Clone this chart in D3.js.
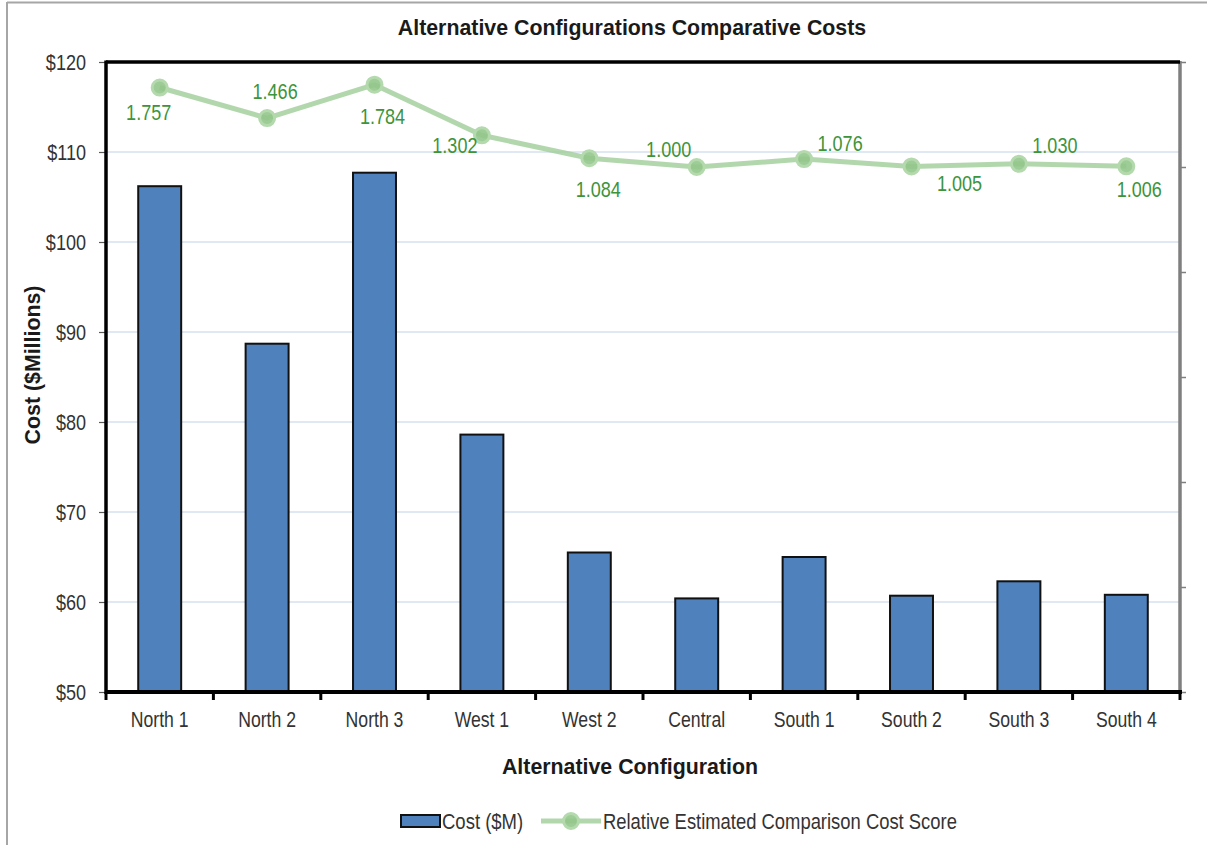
<!DOCTYPE html>
<html>
<head>
<meta charset="utf-8">
<script src="https://cdn.jsdelivr.net/npm/d3@7"></script>
<style>
  body { margin: 0; background: #fff; }
  svg { display: block; }
  text { font-family: "Liberation Sans Narrow", "Arial Narrow", "Liberation Sans", Arial, sans-serif; }
</style>
</head>
<body>
<svg id="chart" width="1207" height="845"></svg>
<script>
// Configurations and their costs ($M) with relative cost scores
const categories = ["North 1", "North 2", "North 3", "West 1", "West 2", "Central", "South 1", "South 2", "South 3", "South 4"];
const costs = [106.2, 88.7, 107.7, 78.6, 65.5, 60.4, 65.0, 60.7, 62.3, 60.8];
const scores = [1.757, 1.466, 1.784, 1.302, 1.084, 1.000, 1.076, 1.005, 1.030, 1.006];
const costTicks = [50, 60, 70, 80, 90, 100, 110, 120];
const scoreTicks = [-4, -3, -2, -1, 0, 1, 2];
// where each score label sits relative to its marker (px)
const labelPlacement = [[-11, 25], [8, -27], [8, 31], [-27, 10], [9, 31], [-28, -18], [36, -16], [48, 17], [36, -19], [13, 23]];

const svg = d3.select("#chart");
const plot = { left: 106, right: 1180, top: 62, bottom: 692 };

const x = d3.scaleBand().domain(categories).range([plot.left, plot.right])
  .paddingInner(0.6).paddingOuter(0.3);
const yCost = d3.scaleLinear().domain([50, 120]).range([plot.bottom, plot.top]);
const yScore = d3.scaleLinear().domain([-4, 2]).range([plot.bottom, plot.top]);

// outer frame (top and left edges)
svg.append("line").attr("x1", 7).attr("x2", 1207).attr("y1", 2.5).attr("y2", 2.5)
  .attr("stroke", "#a6a6a6").attr("stroke-width", 2);
svg.append("line").attr("x1", 7).attr("x2", 7).attr("y1", 2).attr("y2", 845)
  .attr("stroke", "#a6a6a6").attr("stroke-width", 2);

// gridlines
svg.append("g").selectAll("line").data(costTicks.filter(d => d > 50 && d < 120)).join("line")
  .attr("x1", plot.left).attr("x2", plot.right)
  .attr("y1", d => yCost(d)).attr("y2", d => yCost(d))
  .attr("stroke", "#d6e1ef").attr("stroke-width", 1.5);

// bars
svg.append("g").selectAll("rect").data(costs).join("rect")
  .attr("x", (d, i) => x(categories[i]))
  .attr("y", d => yCost(d))
  .attr("width", x.bandwidth())
  .attr("height", d => yCost(50) - yCost(d))
  .attr("fill", "#4f81bd").attr("stroke", "#111").attr("stroke-width", 2);

// left axis
const leftAxis = svg.append("g").attr("transform", `translate(${plot.left},0)`)
  .call(d3.axisLeft(yCost).tickValues(costTicks).tickFormat(d => "$" + d).tickSize(7).tickPadding(13));
leftAxis.select(".domain").remove();
leftAxis.selectAll(".tick line").attr("stroke", "#595959").attr("stroke-width", 1.2);
leftAxis.selectAll(".tick text").attr("font-size", 22).attr("fill", "#333");

// right (secondary) axis: ticks only
const rightAxis = svg.append("g").attr("transform", `translate(${plot.right},0)`)
  .call(d3.axisRight(yScore).tickValues(scoreTicks).tickFormat("").tickSize(6));
rightAxis.select(".domain").remove();
rightAxis.selectAll(".tick line").attr("stroke", "#7f7f7f").attr("stroke-width", 1.5);
svg.append("line").attr("x1", plot.right).attr("x2", plot.right)
  .attr("y1", plot.top - 1).attr("y2", plot.bottom)
  .attr("stroke", "#7f7f7f").attr("stroke-width", 3.5);

// bottom axis labels
const bottomAxis = svg.append("g").attr("transform", `translate(0,${plot.bottom})`)
  .call(d3.axisBottom(x).tickSize(0).tickPadding(20));
bottomAxis.select(".domain").remove();
bottomAxis.selectAll(".tick text").attr("font-size", 21.5).attr("fill", "#333");

// category boundary ticks
const step = x.step();
const bounds = categories.map(c => x(c) - step * 0.3).concat([plot.right]);
svg.append("g").selectAll("line").data(bounds).join("line")
  .attr("x1", d => d).attr("x2", d => d)
  .attr("y1", plot.bottom).attr("y2", plot.bottom + 8)
  .attr("stroke", "#000").attr("stroke-width", 3);

// plot frame lines
svg.append("line").attr("x1", plot.left).attr("x2", plot.right).attr("y1", plot.top).attr("y2", plot.top)
  .attr("stroke", "#000").attr("stroke-width", 3.5);
svg.append("line").attr("x1", plot.left).attr("x2", plot.left).attr("y1", plot.top - 1.5).attr("y2", plot.bottom + 2)
  .attr("stroke", "#000").attr("stroke-width", 3.5);
svg.append("line").attr("x1", plot.left).attr("x2", plot.right + 2).attr("y1", plot.bottom).attr("y2", plot.bottom)
  .attr("stroke", "#000").attr("stroke-width", 4);

// score line
const cx = i => x(categories[i]) + x.bandwidth() / 2;
const line = d3.line().x((d, i) => cx(i)).y(d => yScore(d));
svg.append("path").datum(scores).attr("d", line)
  .attr("fill", "none").attr("stroke", "#9fcd98").attr("stroke-opacity", 0.8)
  .attr("stroke-width", 5).attr("stroke-linejoin", "round");
svg.append("g").selectAll("circle").data(scores).join("circle")
  .attr("cx", (d, i) => cx(i)).attr("cy", d => yScore(d)).attr("r", 7.5)
  .attr("fill", "#92c78b").attr("fill-opacity", 0.9)
  .attr("stroke", "#b3d9ad").attr("stroke-width", 3);
svg.append("g").selectAll("text").data(scores).join("text")
  .attr("x", (d, i) => cx(i) + labelPlacement[i][0])
  .attr("y", (d, i) => yScore(d) + labelPlacement[i][1])
  .attr("dy", "0.36em").attr("text-anchor", "middle")
  .attr("font-size", 22).attr("fill", "#3d943a")
  .text(d => d3.format(".3f")(d));

// titles
svg.append("text").attr("x", 632).attr("y", 35).attr("text-anchor", "middle")
  .attr("font-size", 22).attr("font-weight", "bold").attr("fill", "#1a1a1a")
  .attr("data-squeeze", 0.97)
  .text("Alternative Configurations Comparative Costs");
svg.append("text").attr("x", 630).attr("y", 774).attr("text-anchor", "middle")
  .attr("font-size", 22).attr("font-weight", "bold").attr("fill", "#1a1a1a")
  .attr("data-squeeze", 0.97)
  .text("Alternative Configuration");
svg.append("text").attr("transform", "translate(40,365) rotate(-90)").attr("text-anchor", "middle")
  .attr("font-size", 22).attr("font-weight", "bold").attr("fill", "#1a1a1a")
  .attr("data-squeeze", 0.97)
  .text("Cost ($Millions)");

// legend
const legend = svg.append("g");
legend.append("rect").attr("x", 401).attr("y", 815).attr("width", 39).attr("height", 12)
  .attr("fill", "#4f81bd").attr("stroke", "#111").attr("stroke-width", 2);
legend.append("text").attr("x", 442).attr("y", 829).attr("font-size", 21.5).attr("fill", "#333")
  .attr("data-squeeze", 0.86).text("Cost ($M)");
legend.append("line").attr("x1", 541).attr("x2", 601).attr("y1", 821).attr("y2", 821)
  .attr("stroke", "#9fcd98").attr("stroke-opacity", 0.8).attr("stroke-width", 5);
legend.append("circle").attr("cx", 571).attr("cy", 821).attr("r", 7.5)
  .attr("fill", "#92c78b").attr("fill-opacity", 0.9)
  .attr("stroke", "#b3d9ad").attr("stroke-width", 3);
legend.append("text").attr("x", 603).attr("y", 829).attr("font-size", 21.5).attr("fill", "#333")
  .attr("data-squeeze", 0.856)
  .text("Relative Estimated Comparison Cost Score");

// condensed lettering: squeeze every label horizontally
svg.selectAll("text").each(function () {
  const w = this.getComputedTextLength();
  const k = +(this.getAttribute("data-squeeze") || 0.82);
  d3.select(this).attr("textLength", w * k).attr("lengthAdjust", "spacingAndGlyphs");
});
</script>
</body>
</html>
